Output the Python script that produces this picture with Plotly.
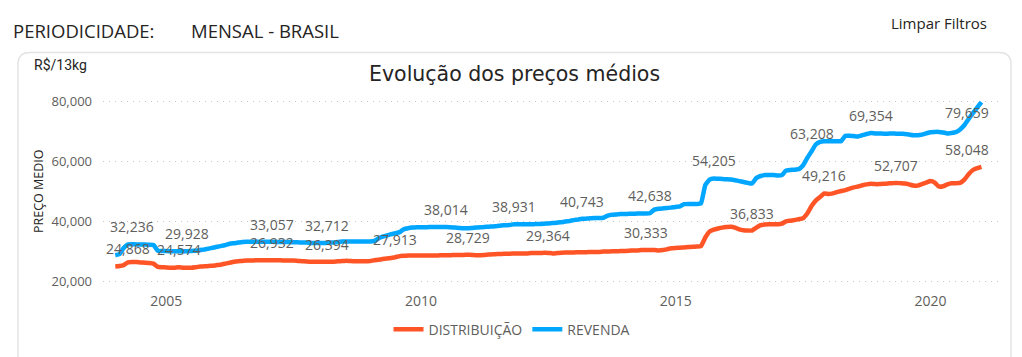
import pandas as pd
import plotly.graph_objects as go

# ---------------- data (monthly, Jan 2004 - Jan 2021) ----------------
months = pd.date_range("2004-01-01", periods=205, freq="MS")

distribuicao = [
    # 2004
    24868, 25000, 25300, 26200, 26300, 26300, 26200, 26100, 26000, 25800, 24700, 24600,
    # 2005
    24500, 24400, 24400, 24574, 24400, 24400, 24400, 24600, 24800, 24900, 25000, 25100,
    # 2006
    25300, 25500, 25800, 26100, 26400, 26600, 26700, 26800, 26800, 26900, 26900, 26900,
    # 2007
    26900, 26932, 26900, 26900, 26800, 26800, 26800, 26700, 26600, 26500, 26400, 26400,
    # 2008
    26400, 26400, 26394, 26400, 26500, 26600, 26700, 26700, 26600, 26600, 26600, 26600,
    # 2009
    26700, 26900, 27100, 27300, 27500, 27700, 27913, 28300, 28400, 28500, 28500, 28500,
    # 2010
    28500, 28500, 28500, 28500, 28500, 28600, 28600, 28600, 28700, 28700, 28700, 28729,
    # 2011
    28700, 28600, 28600, 28700, 28800, 28900, 29000, 29000, 29100, 29100, 29200, 29200,
    # 2012
    29200, 29200, 29300, 29300, 29300, 29400, 29364, 29200, 29300, 29400, 29500, 29500,
    # 2013
    29500, 29600, 29600, 29600, 29700, 29700, 29700, 29800, 29800, 29900, 29900, 30000,
    # 2014
    30000, 30100, 30200, 30200, 30300, 30333, 30300, 30300, 30200, 30300, 30600, 30900,
    # 2015
    31000, 31100, 31200, 31300, 31400, 31500, 31600, 34500, 36500, 37100, 37500, 37800,
    # 2016
    38000, 38100, 37800, 37200, 36900, 36800, 36833, 37800, 38600, 38800, 38900, 38900,
    # 2017
    38900, 39100, 39900, 40100, 40300, 40600, 40900, 42500, 45000, 46800, 48000, 49216,
    # 2018
    49000, 49200, 49600, 50000, 50300, 50800, 51200, 51500, 51900, 52200, 52400, 52300,
    # 2019
    52300, 52400, 52500, 52600, 52707, 52600, 52500, 52200, 51800, 51800, 52300, 52800,
    # 2020
    53300, 52800, 51500, 51600, 52200, 52600, 52600, 52700, 53800, 55600, 57000, 57600,
    # 2021
    58048,
]

revenda = [
    # 2004
    28600, 29000, 31000, 32200, 32236, 32200, 32200, 32200, 32100, 32000, 30100, 30000,
    # 2005
    30000, 29900, 29900, 29900, 29900, 29928, 30000, 30100, 30300, 30500, 30800, 31100,
    # 2006
    31400, 31700, 32000, 32400, 32600, 32800, 33000, 33100, 33100, 33100, 33100, 33100,
    # 2007
    33100, 33057, 33000, 33000, 33000, 33000, 32900, 32900, 32800, 32800, 32700, 32700,
    # 2008
    32700, 32700, 32712, 32800, 32900, 33100, 33200, 33200, 33200, 33200, 33200, 33200,
    # 2009
    33200, 33400, 34200, 34800, 35200, 35600, 35900, 36300, 37300, 37600, 37800, 37900,
    # 2010
    37900, 37900, 38000, 38000, 38000, 38000, 38014, 37900, 37800, 37700, 37600, 37600,
    # 2011
    37700, 37800, 37900, 38000, 38100, 38200, 38300, 38500, 38600, 38700, 38931, 38900,
    # 2012
    38900, 38900, 38900, 39000, 39000, 39100, 39200, 39300, 39400, 39600, 39800, 40000,
    # 2013
    40300, 40500, 40743, 40800, 40900, 41000, 41000, 41100, 41800, 42100, 42200, 42300,
    # 2014
    42300, 42400, 42400, 42500, 42500, 42500, 42638, 43800, 44100, 44200, 44300, 44500,
    # 2015
    44700, 44900, 45600, 45700, 45700, 45700, 45800, 52000, 53800, 54205, 54100, 54000,
    # 2016
    53900, 53800, 53600, 53300, 53000, 52700, 52500, 54300, 55000, 55300, 55300, 55300,
    # 2017
    55200, 55300, 56800, 57000, 57100, 57300, 58500, 61000, 63208, 65500, 66400, 66600,
    # 2018
    66600, 66600, 66600, 66600, 68400, 68400, 68300, 68200, 68600, 69000, 69354, 69200,
    # 2019
    69200, 69100, 69100, 69200, 69100, 69100, 69000, 68800, 68600, 68600, 68800, 69200,
    # 2020
    69600, 69700, 69700, 69500, 69200, 69300, 69600, 70500, 72000, 74000, 76000, 77800,
    # 2021
    79659,
]

# indices (month positions) that carry data labels
labels_distribuicao = [0, 15, 37, 50, 66, 83, 102, 125, 150, 167, 184, 204]
labels_revenda = [4, 17, 37, 50, 78, 94, 110, 126, 141, 164, 178, 204]

series_names = ["DISTRIBUIÇÃO", "REVENDA"]
series_colors = ["#FF5526", "#00A6FF"]

y_ticks = [20000, 40000, 60000, 80000]
x_ticks = ["2005-01-01", "2010-01-01", "2015-01-01", "2020-01-01"]
x_ticklabels = ["2005", "2010", "2015", "2020"]

# ---------------- layout geometry helpers ----------------
W, H = 1022, 357
ML, MR, MT, MB = 103, 22, 95, 68
PW, PH = W - ML - MR, H - MT - MB


def px(x):
    return (x - ML) / PW


def py(y):
    return (H - MB - y) / PH


fig = go.Figure()
for name, vals, col in zip(series_names, [distribuicao, revenda], series_colors):
    fig.add_trace(go.Scatter(
        x=months, y=vals, mode="lines", name=name,
        line=dict(color=col, width=4.5, shape="spline", smoothing=0.3),
        hoverinfo="skip",
    ))

ann = []
label_font = dict(family="Open Sans, sans-serif", size=14, color="#605E5C")
for s, (vals, idxs) in enumerate([(distribuicao, labels_distribuicao), (revenda, labels_revenda)]):
    for i in idxs:
        xs, ya, ys = 0, "bottom", 6
        if i == 0:
            xs = 13
        elif i == len(vals) - 1:
            xs = -14
            if s == 1:
                ya, ys = "top", 1
        ann.append(dict(x=months[i], y=vals[i], xref="x", yref="y",
                        text=f"{vals[i]:,}", showarrow=False,
                        yanchor=ya, yshift=ys, xshift=xs, font=label_font))

dark = "#252423"
ann += [
    dict(x=px(11), y=py(30), xref="paper", yref="paper", xanchor="left", yanchor="middle",
         text="PERIODICIDADE:", showarrow=False,
         font=dict(family="Open Sans, sans-serif", size=18.5, color=dark)),
    dict(x=px(189), y=py(30), xref="paper", yref="paper", xanchor="left", yanchor="middle",
         text="MENSAL - BRASIL", showarrow=False,
         font=dict(family="Open Sans, sans-serif", size=18.5, color=dark)),
    dict(x=px(889), y=py(22), xref="paper", yref="paper", xanchor="left", yanchor="middle",
         text="Limpar Filtros", showarrow=False,
         font=dict(family="Open Sans, sans-serif", size=15, color=dark)),
    dict(x=px(32), y=py(65), xref="paper", yref="paper", xanchor="left", yanchor="middle",
         text="R$/13kg", showarrow=False,
         font=dict(family="Roboto, sans-serif", size=14, color=dark)),
    dict(x=px(514), y=py(74), xref="paper", yref="paper", xanchor="center", yanchor="middle",
         text="Evolução dos preços médios", showarrow=False,
         font=dict(family="DejaVu Sans, sans-serif", size=20.5, color=dark)),
    dict(x=px(38), y=py(192), xref="paper", yref="paper", xanchor="center", yanchor="middle",
         text="PREÇO MEDIO", showarrow=False, textangle=-90,
         font=dict(family="Open Sans, sans-serif", size=12.5, color=dark)),
]

# card outline with rounded top corners
L, R, T, B, r = 18, 1011, 52, 380, 12
rx, ry = r / PW, r / PH
card = (f"M {px(L)},{py(B)} L {px(L)},{py(T) - ry} Q {px(L)},{py(T)} {px(L) + rx},{py(T)} "
        f"L {px(R) - rx},{py(T)} Q {px(R)},{py(T)} {px(R)},{py(T) - ry} L {px(R)},{py(B)}")

fig.update_layout(
    width=W, height=H,
    margin=dict(l=ML, r=MR, t=MT, b=MB),
    paper_bgcolor="white", plot_bgcolor="white",
    showlegend=True,
    legend=dict(orientation="h", x=px(512), xanchor="center", y=py(332), yanchor="middle",
                font=dict(family="Open Sans, sans-serif", size=14, color="#605E5C"),
                tracegroupgap=0),
    annotations=ann,
    shapes=[dict(type="path", path=card, xref="paper", yref="paper",
                 line=dict(color="#E3E3E3", width=1.5), layer="below")],
)
fig.update_xaxes(
    range=["2003-10-05", "2021-05-14"],
    tickvals=x_ticks, ticktext=x_ticklabels,
    showgrid=False, zeroline=False, showline=False,
    tickfont=dict(family="Open Sans, sans-serif", size=14, color="#605E5C"),
    ticks="", ticklabelstandoff=4,
)
fig.update_yaxes(
    range=[18000, 82000],
    tickvals=y_ticks, tickformat=",d",
    showgrid=True, gridcolor="#C8C6C4", griddash="1px,5px", gridwidth=1.3,
    zeroline=False, showline=False,
    tickfont=dict(family="Open Sans, sans-serif", size=13, color="#605E5C"),
    ticks="", ticklabelstandoff=10,
)

fig.write_html("out.html", config={"displayModeBar": False},
               post_script="document.body.style.margin='0';")
